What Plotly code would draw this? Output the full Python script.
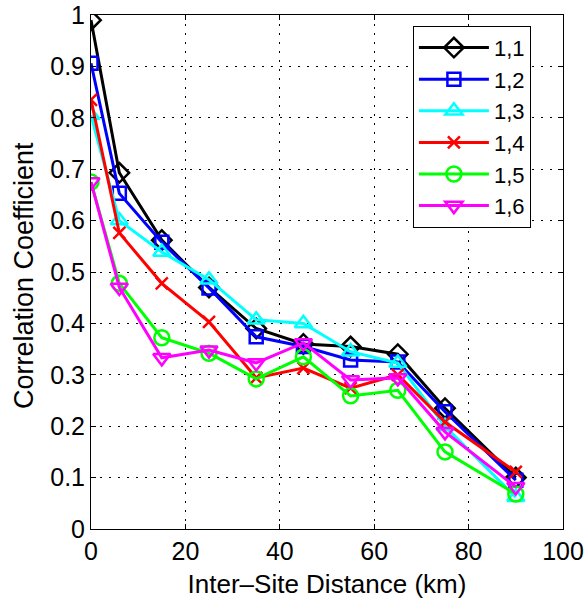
import plotly.graph_objects as go

distance_km = [0, 6, 15, 25, 35, 45, 55, 65, 75, 90]
series_names = ["1,1", "1,2", "1,3", "1,4", "1,5", "1,6"]
corr_11 = [0.99, 0.693, 0.562, 0.470, 0.390, 0.360, 0.355, 0.340, 0.235, 0.100]
corr_12 = [0.906, 0.653, 0.558, 0.469, 0.374, 0.355, 0.329, 0.325, 0.228, 0.095]
corr_13 = [0.805, 0.600, 0.539, 0.485, 0.407, 0.400, 0.345, 0.323, 0.200, 0.062]
corr_14 = [0.835, 0.576, 0.478, 0.403, 0.294, 0.313, 0.274, 0.300, 0.208, 0.111]
corr_15 = [0.675, 0.478, 0.372, 0.342, 0.292, 0.335, 0.259, 0.270, 0.150, 0.068]
corr_16 = [0.675, 0.470, 0.333, 0.348, 0.323, 0.362, 0.290, 0.294, 0.189, 0.082]
x_ticks = [0, 20, 40, 60, 80, 100]
y_ticks = [0, 0.1, 0.2, 0.3, 0.4, 0.5, 0.6, 0.7, 0.8, 0.9, 1]
y_tick_text = ["0", "0.1", "0.2", "0.3", "0.4", "0.5", "0.6", "0.7", "0.8", "0.9", "1"]

all_series = [corr_11, corr_12, corr_13, corr_14, corr_15, corr_16]
colors = ["#000000", "#0000ff", "#00ffff", "#ff0000", "#00ff00", "#ff00ff"]
symbols = ["diamond-open", "square-open", "triangle-up-open", "x-thin-open",
           "circle-open", "triangle-down-open"]
sizes = [15, 13, 15, 12, 15, 15]

fig = go.Figure()
for name, ys, c, s, sz in zip(series_names, all_series, colors, symbols, sizes):
    fig.add_trace(go.Scatter(
        x=distance_km, y=ys, name=name, mode="lines+markers",
        line=dict(color=c, width=3),
        marker=dict(symbol=s, size=sz, color=c, line=dict(color=c, width=2.5)),
    ))

font_family = "Liberation Sans, Arial, Helvetica, sans-serif"
axis_common = dict(
    showline=True, linecolor="black", linewidth=1, mirror="ticks",
    ticks="inside", ticklen=5, tickcolor="black", automargin=False,
    ticklabeloverflow="allow",
    showgrid=True, gridcolor="black", griddash="2px,7px", gridwidth=1,
    zeroline=False, tickfont=dict(size=25, color="black", family=font_family),
)
fig.update_xaxes(range=[0, 100], tickvals=x_ticks,
                 title=dict(text="Inter\u2013Site Distance (km)",
                            font=dict(size=26, color="black", family=font_family),
                            standoff=10),
                 **axis_common)
fig.update_yaxes(range=[0, 1], tickvals=y_ticks, ticktext=y_tick_text,
                 **axis_common)
fig.add_annotation(text="Correlation Coefficient", xref="paper", yref="paper",
                   x=-0.142, y=0.494, xanchor="center", yanchor="middle",
                   textangle=-90, showarrow=False,
                   font=dict(size=27, color="black", family=font_family))
fig.update_layout(
    width=585, height=599,
    margin=dict(l=91, r=22, t=15, b=70),
    plot_bgcolor="white", paper_bgcolor="white",
    font=dict(family=font_family, color="black"),
    legend=dict(x=0.682, y=0.979, xanchor="left", yanchor="top",
                bgcolor="white", bordercolor="black", borderwidth=1,
                font=dict(size=22, color="black", family=font_family),
                itemwidth=70, tracegroupgap=0),
    showlegend=True,
)
fig.write_html("out.html", config={"displayModeBar": False},
               post_script="document.body.style.margin='0px';document.body.style.overflow='hidden';")
